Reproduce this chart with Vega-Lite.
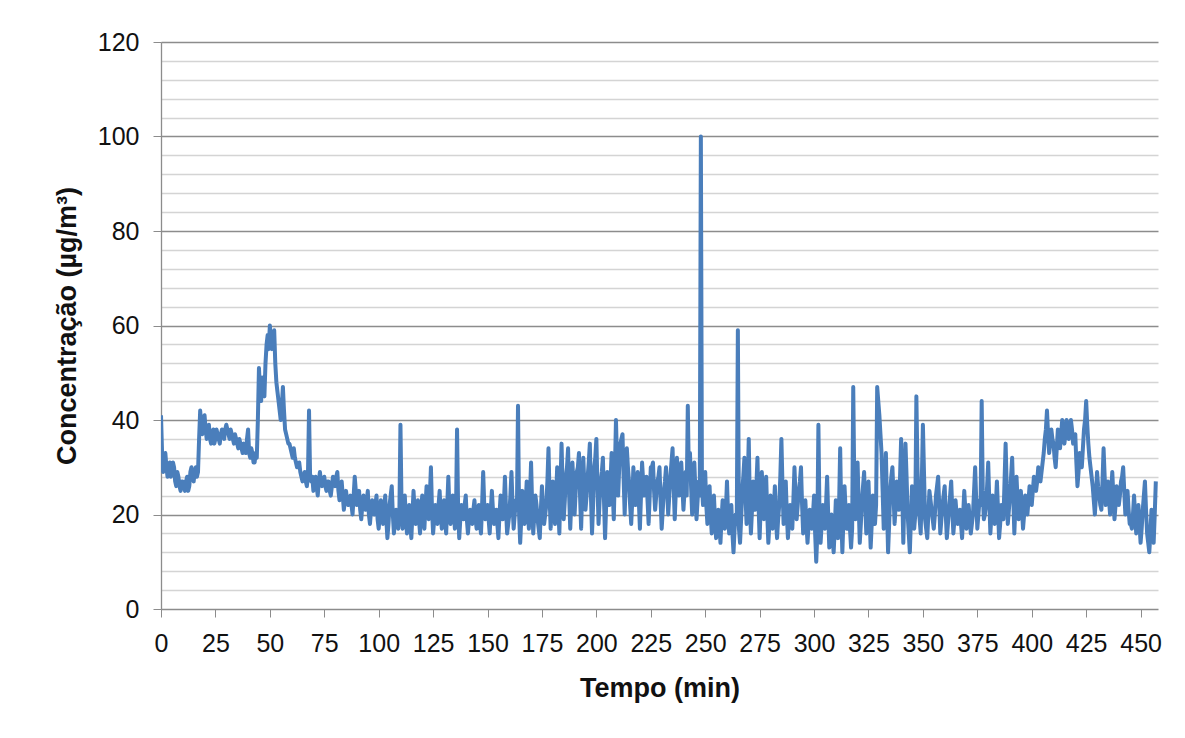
{
  "$schema": "https://vega.github.io/schema/vega-lite/v6.json",
  "width": 997,
  "height": 567,
  "autosize": {"type": "none"},
  "padding": {"left": 161, "top": 42, "right": 27, "bottom": 129},
  "background": "white",
  "config": {"view": {"stroke": null}, "font": "Liberation Sans"},
  "data": {"values": [
    {"t":0,"c":41},{"t":1,"c":29},{"t":2,"c":33},{"t":3,"c":28},{"t":4,"c":31},{"t":5,"c":29},{"t":6,"c":30},{"t":7,"c":26},{"t":8,"c":28},{"t":9,"c":25},
    {"t":10,"c":27},{"t":11,"c":25},{"t":12,"c":28},{"t":13,"c":26},{"t":14,"c":30},{"t":15,"c":27},{"t":16,"c":30},{"t":17,"c":29},{"t":18,"c":42},{"t":19,"c":37},
    {"t":20,"c":41},{"t":21,"c":36},{"t":22,"c":39},{"t":23,"c":35},{"t":24,"c":38},{"t":25,"c":36},{"t":26,"c":37},{"t":27,"c":35},{"t":28,"c":38},{"t":29,"c":36},
    {"t":30,"c":39},{"t":31,"c":37},{"t":32,"c":38},{"t":33,"c":36},{"t":34,"c":37},{"t":35,"c":35},{"t":36,"c":36},{"t":37,"c":34},{"t":38,"c":35},{"t":39,"c":33},
    {"t":40,"c":38},{"t":41,"c":32},{"t":42,"c":33},{"t":43,"c":31},{"t":44,"c":32},{"t":45,"c":51},{"t":46,"c":44},{"t":47,"c":47},{"t":48,"c":52},{"t":49,"c":58},
    {"t":50,"c":60},{"t":51,"c":55},{"t":52,"c":59},{"t":53,"c":48},{"t":54,"c":44},{"t":55,"c":40},{"t":56,"c":47},{"t":57,"c":38},{"t":58,"c":36},{"t":59,"c":35},
    {"t":60,"c":33},{"t":61,"c":34},{"t":62,"c":31},{"t":63,"c":30},{"t":64,"c":29},{"t":65,"c":27},{"t":66,"c":29},{"t":67,"c":26},{"t":68,"c":42},{"t":69,"c":27},
    {"t":70,"c":25},{"t":71,"c":28},{"t":72,"c":24},{"t":73,"c":29},{"t":74,"c":26},{"t":75,"c":28},{"t":76,"c":25},{"t":77,"c":27},{"t":78,"c":24},{"t":79,"c":28},
    {"t":80,"c":26},{"t":81,"c":29},{"t":82,"c":23},{"t":83,"c":27},{"t":84,"c":21},{"t":85,"c":25},{"t":86,"c":22},{"t":87,"c":24},{"t":88,"c":20},{"t":89,"c":28},
    {"t":90,"c":22},{"t":91,"c":25},{"t":92,"c":19},{"t":93,"c":24},{"t":94,"c":21},{"t":95,"c":25},{"t":96,"c":18},{"t":97,"c":23},{"t":98,"c":20},{"t":99,"c":24},
    {"t":100,"c":17},{"t":101,"c":23},{"t":102,"c":18},{"t":103,"c":24},{"t":104,"c":15},{"t":105,"c":22},{"t":106,"c":26},{"t":107,"c":16},{"t":108,"c":21},{"t":109,"c":17},
    {"t":110,"c":39},{"t":111,"c":17},{"t":112,"c":24},{"t":113,"c":16},{"t":114,"c":22},{"t":115,"c":15},{"t":116,"c":25},{"t":117,"c":18},{"t":118,"c":23},{"t":119,"c":16},
    {"t":120,"c":24},{"t":121,"c":17},{"t":122,"c":26},{"t":123,"c":19},{"t":124,"c":30},{"t":125,"c":16},{"t":126,"c":22},{"t":127,"c":18},{"t":128,"c":25},{"t":129,"c":17},
    {"t":130,"c":23},{"t":131,"c":16},{"t":132,"c":28},{"t":133,"c":18},{"t":134,"c":24},{"t":135,"c":17},{"t":136,"c":38},{"t":137,"c":15},{"t":138,"c":22},{"t":139,"c":19},
    {"t":140,"c":24},{"t":141,"c":16},{"t":142,"c":21},{"t":143,"c":18},{"t":144,"c":23},{"t":145,"c":17},{"t":146,"c":22},{"t":147,"c":16},{"t":148,"c":29},{"t":149,"c":19},
    {"t":150,"c":22},{"t":151,"c":16},{"t":152,"c":25},{"t":153,"c":18},{"t":154,"c":21},{"t":155,"c":15},{"t":156,"c":24},{"t":157,"c":19},{"t":158,"c":28},{"t":159,"c":16},
    {"t":160,"c":20},{"t":161,"c":29},{"t":162,"c":17},{"t":163,"c":23},{"t":164,"c":43},{"t":165,"c":14},{"t":166,"c":25},{"t":167,"c":18},{"t":168,"c":27},{"t":169,"c":17},
    {"t":170,"c":31},{"t":171,"c":16},{"t":172,"c":24},{"t":173,"c":19},{"t":174,"c":15},{"t":175,"c":26},{"t":176,"c":18},{"t":177,"c":22},{"t":178,"c":34},{"t":179,"c":17},
    {"t":180,"c":27},{"t":181,"c":18},{"t":182,"c":30},{"t":183,"c":16},{"t":184,"c":35},{"t":185,"c":19},{"t":186,"c":28},{"t":187,"c":34},{"t":188,"c":17},{"t":189,"c":31},
    {"t":190,"c":20},{"t":191,"c":29},{"t":192,"c":33},{"t":193,"c":17},{"t":194,"c":32},{"t":195,"c":21},{"t":196,"c":28},{"t":197,"c":35},{"t":198,"c":16},{"t":199,"c":30},
    {"t":200,"c":36},{"t":201,"c":18},{"t":202,"c":27},{"t":203,"c":32},{"t":204,"c":15},{"t":205,"c":29},{"t":206,"c":22},{"t":207,"c":33},{"t":208,"c":19},{"t":209,"c":40},
    {"t":210,"c":24},{"t":211,"c":35},{"t":212,"c":37},{"t":213,"c":20},{"t":214,"c":34},{"t":215,"c":27},{"t":216,"c":18},{"t":217,"c":30},{"t":218,"c":22},{"t":219,"c":29},
    {"t":220,"c":17},{"t":221,"c":31},{"t":222,"c":24},{"t":223,"c":28},{"t":224,"c":18},{"t":225,"c":30},{"t":226,"c":31},{"t":227,"c":21},{"t":228,"c":27},{"t":229,"c":30},
    {"t":230,"c":17},{"t":231,"c":25},{"t":232,"c":30},{"t":233,"c":20},{"t":234,"c":28},{"t":235,"c":34},{"t":236,"c":19},{"t":237,"c":32},{"t":238,"c":24},{"t":239,"c":31},
    {"t":240,"c":21},{"t":241,"c":29},{"t":242,"c":43},{"t":243,"c":33},{"t":244,"c":20},{"t":245,"c":31},{"t":246,"c":19},{"t":247,"c":27},{"t":248,"c":100},{"t":249,"c":22},
    {"t":250,"c":29},{"t":251,"c":18},{"t":252,"c":26},{"t":253,"c":16},{"t":254,"c":24},{"t":255,"c":15},{"t":256,"c":21},{"t":257,"c":14},{"t":258,"c":23},{"t":259,"c":17},
    {"t":260,"c":27},{"t":261,"c":16},{"t":262,"c":22},{"t":263,"c":12},{"t":264,"c":20},{"t":265,"c":59},{"t":266,"c":14},{"t":267,"c":25},{"t":268,"c":32},{"t":269,"c":18},
    {"t":270,"c":36},{"t":271,"c":16},{"t":272,"c":27},{"t":273,"c":21},{"t":274,"c":32},{"t":275,"c":15},{"t":276,"c":29},{"t":277,"c":19},{"t":278,"c":28},{"t":279,"c":14},
    {"t":280,"c":24},{"t":281,"c":17},{"t":282,"c":26},{"t":283,"c":15},{"t":284,"c":22},{"t":285,"c":36},{"t":286,"c":18},{"t":287,"c":27},{"t":288,"c":15},{"t":289,"c":22},
    {"t":290,"c":17},{"t":291,"c":30},{"t":292,"c":19},{"t":293,"c":25},{"t":294,"c":30},{"t":295,"c":16},{"t":296,"c":23},{"t":297,"c":14},{"t":298,"c":21},{"t":299,"c":17},
    {"t":300,"c":24},{"t":301,"c":10},{"t":302,"c":39},{"t":303,"c":14},{"t":304,"c":22},{"t":305,"c":17},{"t":306,"c":28},{"t":307,"c":13},{"t":308,"c":20},{"t":309,"c":12},
    {"t":310,"c":23},{"t":311,"c":15},{"t":312,"c":34},{"t":313,"c":12},{"t":314,"c":26},{"t":315,"c":17},{"t":316,"c":22},{"t":317,"c":13},{"t":318,"c":47},{"t":319,"c":19},
    {"t":320,"c":31},{"t":321,"c":14},{"t":322,"c":23},{"t":323,"c":29},{"t":324,"c":16},{"t":325,"c":27},{"t":326,"c":13},{"t":327,"c":24},{"t":328,"c":18},{"t":329,"c":47},
    {"t":330,"c":41},{"t":331,"c":33},{"t":332,"c":17},{"t":333,"c":33},{"t":334,"c":12},{"t":335,"c":25},{"t":336,"c":30},{"t":337,"c":18},{"t":338,"c":27},{"t":339,"c":21},
    {"t":340,"c":36},{"t":341,"c":14},{"t":342,"c":35},{"t":343,"c":20},{"t":344,"c":12},{"t":345,"c":26},{"t":346,"c":17},{"t":347,"c":45},{"t":348,"c":22},{"t":349,"c":16},
    {"t":350,"c":39},{"t":351,"c":19},{"t":352,"c":15},{"t":353,"c":25},{"t":354,"c":21},{"t":355,"c":17},{"t":356,"c":24},{"t":357,"c":28},{"t":358,"c":16},{"t":359,"c":22},
    {"t":360,"c":26},{"t":361,"c":15},{"t":362,"c":21},{"t":363,"c":27},{"t":364,"c":16},{"t":365,"c":23},{"t":366,"c":18},{"t":367,"c":21},{"t":368,"c":15},{"t":369,"c":25},
    {"t":370,"c":17},{"t":371,"c":22},{"t":372,"c":16},{"t":373,"c":20},{"t":374,"c":30},{"t":375,"c":17},{"t":376,"c":23},{"t":377,"c":44},{"t":378,"c":19},{"t":379,"c":22},
    {"t":380,"c":31},{"t":381,"c":16},{"t":382,"c":24},{"t":383,"c":18},{"t":384,"c":27},{"t":385,"c":15},{"t":386,"c":22},{"t":387,"c":19},{"t":388,"c":35},{"t":389,"c":18},
    {"t":390,"c":24},{"t":391,"c":32},{"t":392,"c":16},{"t":393,"c":28},{"t":394,"c":19},{"t":395,"c":25},{"t":396,"c":17},{"t":397,"c":24},{"t":398,"c":20},{"t":399,"c":26},
    {"t":400,"c":22},{"t":401,"c":28},{"t":402,"c":25},{"t":403,"c":30},{"t":404,"c":27},{"t":405,"c":31},{"t":406,"c":36},{"t":407,"c":42},{"t":408,"c":33},{"t":409,"c":38},
    {"t":410,"c":35},{"t":411,"c":30},{"t":412,"c":38},{"t":413,"c":34},{"t":414,"c":40},{"t":415,"c":35},{"t":416,"c":40},{"t":417,"c":36},{"t":418,"c":40},{"t":419,"c":35},
    {"t":420,"c":37},{"t":421,"c":26},{"t":422,"c":33},{"t":423,"c":30},{"t":424,"c":38},{"t":425,"c":44},{"t":426,"c":35},{"t":427,"c":30},{"t":428,"c":26},{"t":429,"c":20},
    {"t":430,"c":29},{"t":431,"c":24},{"t":432,"c":21},{"t":433,"c":34},{"t":434,"c":22},{"t":435,"c":27},{"t":436,"c":20},{"t":437,"c":29},{"t":438,"c":19},{"t":439,"c":26},
    {"t":440,"c":22},{"t":441,"c":27},{"t":442,"c":30},{"t":443,"c":20},{"t":444,"c":25},{"t":445,"c":18},{"t":446,"c":17},{"t":447,"c":24},{"t":448,"c":16},{"t":449,"c":22},
    {"t":450,"c":14},{"t":451,"c":21},{"t":452,"c":27},{"t":453,"c":16},{"t":454,"c":12},{"t":455,"c":21},{"t":456,"c":14},{"t":457,"c":27},
    {"t":0.5,"c":33},{"t":1.5,"c":31},{"t":2.5,"c":30},{"t":3.5,"c":30},{"t":4.5,"c":28},{"t":5.5,"c":31},{"t":6.5,"c":27},{"t":7.5,"c":29},{"t":8.5,"c":26},{"t":9.5,"c":27},
    {"t":10.5,"c":26},{"t":11.5,"c":27},{"t":12.5,"c":25},{"t":13.5,"c":29},{"t":14.5,"c":28},{"t":15.5,"c":29},{"t":16.5,"c":28},{"t":17.5,"c":36},{"t":18.5,"c":39},{"t":19.5,"c":40},
    {"t":20.5,"c":38},{"t":21.5,"c":37},{"t":22.5,"c":36},{"t":23.5,"c":37},{"t":24.5,"c":35},{"t":25.5,"c":38},{"t":26.5,"c":36},{"t":27.5,"c":37},{"t":28.5,"c":37},{"t":29.5,"c":38},
    {"t":30.5,"c":38},{"t":31.5,"c":36},{"t":32.5,"c":37},{"t":33.5,"c":35},{"t":34.5,"c":36},{"t":35.5,"c":34},{"t":36.5,"c":35},{"t":37.5,"c":33},{"t":38.5,"c":34},{"t":39.5,"c":36},
    {"t":40.5,"c":33},{"t":41.5,"c":34},{"t":42.5,"c":31},{"t":43.5,"c":33},{"t":44.5,"c":40},{"t":45.5,"c":46},{"t":46.5,"c":49},{"t":47.5,"c":45},{"t":48.5,"c":56},{"t":49.5,"c":55},
    {"t":50.5,"c":57},{"t":51.5,"c":57},{"t":52.5,"c":52},{"t":53.5,"c":46},{"t":54.5,"c":42},{"t":55.5,"c":43},{"t":56.5,"c":42},{"t":57.5,"c":37},{"t":58.5,"c":35},{"t":59.5,"c":34},
    {"t":60.5,"c":32},{"t":61.5,"c":32},{"t":62.5,"c":30},{"t":63.5,"c":31},{"t":64.5,"c":28},{"t":65.5,"c":28},{"t":66.5,"c":27},{"t":67.5,"c":28},{"t":68.5,"c":28},{"t":69.5,"c":28},
    {"t":70.5,"c":27},{"t":71.5,"c":26},{"t":72.5,"c":27},{"t":73.5,"c":27},{"t":74.5,"c":27},{"t":75.5,"c":26},{"t":76.5,"c":27},{"t":77.5,"c":25},{"t":78.5,"c":26},{"t":79.5,"c":27},
    {"t":80.5,"c":28},{"t":81.5,"c":25},{"t":82.5,"c":25},{"t":83.5,"c":24},{"t":84.5,"c":23},{"t":85.5,"c":23},{"t":86.5,"c":23},{"t":87.5,"c":22},{"t":88.5,"c":24},{"t":89.5,"c":25},
    {"t":90.5,"c":23},{"t":91.5,"c":21},{"t":92.5,"c":22},{"t":93.5,"c":22},{"t":94.5,"c":23},{"t":95.5,"c":20},{"t":96.5,"c":21},{"t":97.5,"c":21},{"t":98.5,"c":22},{"t":99.5,"c":19},
    {"t":100.5,"c":20},{"t":101.5,"c":21},{"t":102.5,"c":21},{"t":103.5,"c":19},{"t":104.5,"c":18},{"t":105.5,"c":24},{"t":106.5,"c":20},{"t":107.5,"c":19},{"t":108.5,"c":19},{"t":109.5,"c":20},
    {"t":110.5,"c":22},{"t":111.5,"c":20},{"t":112.5,"c":19},{"t":113.5,"c":20},{"t":114.5,"c":18},{"t":115.5,"c":20},{"t":116.5,"c":21},{"t":117.5,"c":20},{"t":118.5,"c":19},{"t":119.5,"c":21},
    {"t":120.5,"c":20},{"t":121.5,"c":22},{"t":122.5,"c":21},{"t":123.5,"c":24},{"t":124.5,"c":21},{"t":125.5,"c":19},{"t":126.5,"c":20},{"t":127.5,"c":22},{"t":128.5,"c":20},{"t":129.5,"c":21},
    {"t":130.5,"c":19},{"t":131.5,"c":22},{"t":132.5,"c":21},{"t":133.5,"c":20},{"t":134.5,"c":21},{"t":135.5,"c":20},{"t":136.5,"c":21},{"t":137.5,"c":19},{"t":138.5,"c":21},{"t":139.5,"c":22},
    {"t":140.5,"c":19},{"t":141.5,"c":19},{"t":142.5,"c":20},{"t":143.5,"c":21},{"t":144.5,"c":19},{"t":145.5,"c":20},{"t":146.5,"c":18},{"t":147.5,"c":22},{"t":148.5,"c":22},{"t":149.5,"c":20},
    {"t":150.5,"c":19},{"t":151.5,"c":21},{"t":152.5,"c":21},{"t":153.5,"c":19},{"t":154.5,"c":18},{"t":155.5,"c":20},{"t":156.5,"c":22},{"t":157.5,"c":22},{"t":158.5,"c":21},{"t":159.5,"c":18},
    {"t":160.5,"c":24},{"t":161.5,"c":22},{"t":162.5,"c":20},{"t":163.5,"c":21},{"t":164.5,"c":20},{"t":165.5,"c":19},{"t":166.5,"c":21},{"t":167.5,"c":22},{"t":168.5,"c":21},{"t":169.5,"c":24},
    {"t":170.5,"c":22},{"t":171.5,"c":20},{"t":172.5,"c":22},{"t":173.5,"c":17},{"t":174.5,"c":21},{"t":175.5,"c":21},{"t":176.5,"c":20},{"t":177.5,"c":27},{"t":178.5,"c":24},{"t":179.5,"c":22},
    {"t":180.5,"c":22},{"t":181.5,"c":24},{"t":182.5,"c":22},{"t":183.5,"c":26},{"t":184.5,"c":26},{"t":185.5,"c":23},{"t":186.5,"c":30},{"t":187.5,"c":24},{"t":188.5,"c":23},{"t":189.5,"c":26},
    {"t":190.5,"c":25},{"t":191.5,"c":30},{"t":192.5,"c":24},{"t":193.5,"c":25},{"t":194.5,"c":26},{"t":195.5,"c":24},{"t":196.5,"c":31},{"t":197.5,"c":24},{"t":198.5,"c":22},{"t":199.5,"c":32},
    {"t":200.5,"c":26},{"t":201.5,"c":23},{"t":202.5,"c":29},{"t":203.5,"c":23},{"t":204.5,"c":22},{"t":205.5,"c":25},{"t":206.5,"c":27},{"t":207.5,"c":25},{"t":208.5,"c":29},{"t":209.5,"c":31},
    {"t":210.5,"c":30},{"t":211.5,"c":36},{"t":212.5,"c":28},{"t":213.5,"c":27},{"t":214.5,"c":30},{"t":215.5,"c":22},{"t":216.5,"c":23},{"t":217.5,"c":25},{"t":218.5,"c":26},{"t":219.5,"c":23},
    {"t":220.5,"c":24},{"t":221.5,"c":27},{"t":222.5,"c":25},{"t":223.5,"c":23},{"t":224.5,"c":24},{"t":225.5,"c":30},{"t":226.5,"c":25},{"t":227.5,"c":24},{"t":228.5,"c":28},{"t":229.5,"c":23},
    {"t":230.5,"c":21},{"t":231.5,"c":27},{"t":232.5,"c":25},{"t":233.5,"c":24},{"t":234.5,"c":31},{"t":235.5,"c":26},{"t":236.5,"c":25},{"t":237.5,"c":28},{"t":238.5,"c":27},{"t":239.5,"c":26},
    {"t":240.5,"c":25},{"t":241.5,"c":24},{"t":242.5,"c":28},{"t":243.5,"c":26},{"t":244.5,"c":25},{"t":245.5,"c":25},{"t":246.5,"c":23},{"t":247.5,"c":24},{"t":248.5,"c":26},{"t":249.5,"c":25},
    {"t":250.5,"c":22},{"t":251.5,"c":22},{"t":252.5,"c":20},{"t":253.5,"c":20},{"t":254.5,"c":19},{"t":255.5,"c":18},{"t":256.5,"c":18},{"t":257.5,"c":19},{"t":258.5,"c":20},{"t":259.5,"c":21},
    {"t":260.5,"c":20},{"t":261.5,"c":19},{"t":262.5,"c":16},{"t":263.5,"c":17},{"t":264.5,"c":18},{"t":265.5,"c":17},{"t":266.5,"c":19},{"t":267.5,"c":28},{"t":268.5,"c":24},{"t":269.5,"c":26},
    {"t":270.5,"c":22},{"t":271.5,"c":21},{"t":272.5,"c":24},{"t":273.5,"c":26},{"t":274.5,"c":22},{"t":275.5,"c":22},{"t":276.5,"c":24},{"t":277.5,"c":23},{"t":278.5,"c":20},{"t":279.5,"c":18},
    {"t":280.5,"c":21},{"t":281.5,"c":21},{"t":282.5,"c":19},{"t":283.5,"c":19},{"t":284.5,"c":28},{"t":285.5,"c":26},{"t":286.5,"c":22},{"t":287.5,"c":20},{"t":288.5,"c":19},{"t":289.5,"c":20},
    {"t":290.5,"c":23},{"t":291.5,"c":24},{"t":292.5,"c":22},{"t":293.5,"c":27},{"t":294.5,"c":22},{"t":295.5,"c":19},{"t":296.5,"c":18},{"t":297.5,"c":18},{"t":298.5,"c":19},{"t":299.5,"c":20},
    {"t":300.5,"c":16},{"t":301.5,"c":16},{"t":302.5,"c":20},{"t":303.5,"c":18},{"t":304.5,"c":19},{"t":305.5,"c":22},{"t":306.5,"c":20},{"t":307.5,"c":16},{"t":308.5,"c":15},{"t":309.5,"c":17},
    {"t":310.5,"c":19},{"t":311.5,"c":22},{"t":312.5,"c":20},{"t":313.5,"c":19},{"t":314.5,"c":21},{"t":315.5,"c":19},{"t":316.5,"c":17},{"t":317.5,"c":17},{"t":318.5,"c":26},{"t":319.5,"c":25},
    {"t":320.5,"c":22},{"t":321.5,"c":18},{"t":322.5,"c":26},{"t":323.5,"c":22},{"t":324.5,"c":21},{"t":325.5,"c":20},{"t":326.5,"c":18},{"t":327.5,"c":21},{"t":328.5,"c":22},{"t":329.5,"c":44},
    {"t":330.5,"c":37},{"t":331.5,"c":25},{"t":332.5,"c":25},{"t":333.5,"c":22},{"t":334.5,"c":18},{"t":335.5,"c":28},{"t":336.5,"c":24},{"t":337.5,"c":22},{"t":338.5,"c":24},{"t":339.5,"c":28},
    {"t":340.5,"c":25},{"t":341.5,"c":24},{"t":342.5,"c":28},{"t":343.5,"c":16},{"t":344.5,"c":19},{"t":345.5,"c":21},{"t":346.5,"c":20},{"t":347.5,"c":30},{"t":348.5,"c":19},{"t":349.5,"c":27},
    {"t":350.5,"c":29},{"t":351.5,"c":17},{"t":352.5,"c":20},{"t":353.5,"c":23},{"t":354.5,"c":19},{"t":355.5,"c":20},{"t":356.5,"c":26},{"t":357.5,"c":22},{"t":358.5,"c":19},{"t":359.5,"c":24},
    {"t":360.5,"c":20},{"t":361.5,"c":18},{"t":362.5,"c":24},{"t":363.5,"c":21},{"t":364.5,"c":19},{"t":365.5,"c":20},{"t":366.5,"c":19},{"t":367.5,"c":18},{"t":368.5,"c":20},{"t":369.5,"c":21},
    {"t":370.5,"c":19},{"t":371.5,"c":19},{"t":372.5,"c":18},{"t":373.5,"c":25},{"t":374.5,"c":23},{"t":375.5,"c":20},{"t":376.5,"c":22},{"t":377.5,"c":25},{"t":378.5,"c":20},{"t":379.5,"c":26},
    {"t":380.5,"c":23},{"t":381.5,"c":20},{"t":382.5,"c":21},{"t":383.5,"c":22},{"t":384.5,"c":21},{"t":385.5,"c":18},{"t":386.5,"c":20},{"t":387.5,"c":27},{"t":388.5,"c":26},{"t":389.5,"c":21},
    {"t":390.5,"c":28},{"t":391.5,"c":24},{"t":392.5,"c":22},{"t":393.5,"c":23},{"t":394.5,"c":22},{"t":395.5,"c":21},{"t":396.5,"c":20},{"t":397.5,"c":22},{"t":398.5,"c":23},{"t":399.5,"c":24},
    {"t":400.5,"c":25},{"t":401.5,"c":26},{"t":402.5,"c":27},{"t":403.5,"c":28},{"t":404.5,"c":29},{"t":405.5,"c":33},{"t":406.5,"c":38},{"t":407.5,"c":37},{"t":408.5,"c":35},{"t":409.5,"c":36},
    {"t":410.5,"c":32},{"t":411.5,"c":34},{"t":412.5,"c":36},{"t":413.5,"c":37},{"t":414.5,"c":38},{"t":415.5,"c":37},{"t":416.5,"c":38},{"t":417.5,"c":38},{"t":418.5,"c":38},{"t":419.5,"c":36},
    {"t":420.5,"c":31},{"t":421.5,"c":29},{"t":422.5,"c":31},{"t":423.5,"c":34},{"t":424.5,"c":40},{"t":425.5,"c":39},{"t":426.5,"c":32},{"t":427.5,"c":28},{"t":428.5,"c":23},{"t":429.5,"c":24},
    {"t":430.5,"c":26},{"t":431.5,"c":22},{"t":432.5,"c":27},{"t":433.5,"c":28},{"t":434.5,"c":24},{"t":435.5,"c":23},{"t":436.5,"c":25},{"t":437.5,"c":24},{"t":438.5,"c":22},{"t":439.5,"c":24},
    {"t":440.5,"c":24},{"t":441.5,"c":28},{"t":442.5,"c":25},{"t":443.5,"c":22},{"t":444.5,"c":21},{"t":445.5,"c":18},{"t":446.5,"c":20},{"t":447.5,"c":20},{"t":448.5,"c":19},{"t":449.5,"c":18},
    {"t":450.5,"c":17},{"t":451.5,"c":24},{"t":452.5,"c":21},{"t":453.5,"c":14},{"t":454.5,"c":16},{"t":455.5,"c":17},{"t":456.5,"c":20}
  ]},
  "mark": {"type": "line", "color": "#4a7ebb", "strokeWidth": 4, "strokeJoin": "round", "clip": true},
  "encoding": {
    "x": {
      "field": "t", "type": "quantitative",
      "scale": {"domain": [0, 458], "nice": false, "zero": false},
      "axis": {
        "title": "Tempo (min)",
        "values": [0,25,50,75,100,125,150,175,200,225,250,275,300,325,350,375,400,425,450],
        "grid": false,
        "domain": false,
        "tickColor": "#8c8c8c", "tickSize": 8, "tickWidth": 1,
        "labelFont": "Liberation Sans", "labelFontSize": 25, "labelColor": "#111",
        "labelPadding": 14, "labelFlush": false, "labelOverlap": false,
        "titleFont": "Liberation Sans", "titleFontSize": 27, "titleFontWeight": "bold", "titleColor": "#111",
        "titlePadding": 19
      }
    },
    "y": {
      "field": "c", "type": "quantitative",
      "scale": {"domain": [0, 120], "nice": false},
      "axis": {
        "title": "Concentração (µg/m³)",
        "values": [0,4,8,12,16,20,24,28,32,36,40,44,48,52,56,60,64,68,72,76,80,84,88,92,96,100,104,108,112,116,120],
        "labelExpr": "datum.value % 20 === 0 ? datum.label : ''",
        "grid": true,
        "gridColor": {"condition": {"test": "datum.value % 20 === 0", "value": "#8c8c8c"}, "value": "#d4d4d4"},
        "gridWidth": 1.3,
        "domainColor": "#8c8c8c", "domainWidth": 1.3,
        "tickColor": "#8c8c8c", "tickSize": 8,
        "tickOpacity": {"condition": {"test": "datum.value % 20 === 0", "value": 1}, "value": 0},
        "labelFont": "Liberation Sans", "labelFontSize": 25, "labelColor": "#111",
        "labelPadding": 14,
        "titleFont": "Liberation Sans", "titleFontSize": 27, "titleFontWeight": "bold", "titleColor": "#111",
        "titlePadding": 16
      }
    }
  }
}
